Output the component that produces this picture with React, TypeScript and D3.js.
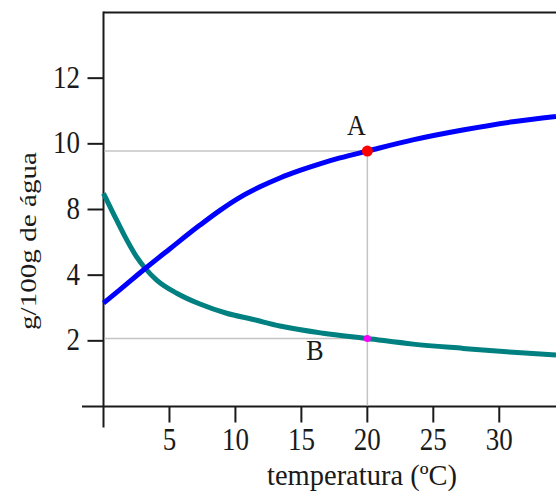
import React, { useEffect, useRef } from 'react';
import * as d3 from 'd3';

// temperatures (ºC) and solubilities (g/100g de água)
const tempA = [0, 1.25, 3.14, 5.04, 7.31, 8.83, 10.34, 11.86, 13.37, 14.89, 16.4, 17.92, 20, 23.45, 27.23, 31.02, 34.3];
const solA = [3.15, 3.56, 4.39, 5.61, 7.05, 7.95, 8.37, 8.69, 8.96, 9.19, 9.39, 9.57, 9.78, 10.12, 10.42, 10.67, 10.83];

const tempB = [0, 0.74, 1.63, 2.5, 3.16, 4.03, 5.55, 7.31, 9.33, 11.35, 13.37, 16.65, 20, 23.47, 27.26, 31.05, 34.3];
const solB = [8.49, 7.77, 6.35, 5.13, 4.42, 3.85, 3.45, 3.12, 2.84, 2.65, 2.45, 2.23, 2.07, 1.9, 1.77, 1.65, 1.57];

const pointA = { t: 20, s: 9.78, label: 'A' };
const pointB = { t: 20, s: 2.07, label: 'B' };

const xTicks = [5, 10, 15, 20, 25, 30];
// the original axis is labelled 2, 4, 8, 10, 12 at equal spacing
const yTicks = [2, 4, 8, 10, 12];
const yDomain = [0, 2, 4, 8, 10, 12, 14];
const xMax = 34.3;

const App = () => {
  const ref = useRef<SVGSVGElement>(null);

  useEffect(() => {
    const width = 556;
    const left = 103.5;
    const top = 12.5;
    const bottom = 406.5;
    const font = '"Liberation Serif", "Times New Roman", serif';

    const svg = d3.select(ref.current);
    svg.selectAll('*').remove();

    const x = d3.scaleLinear().domain([0, xMax]).range([left, width]);
    const step = (bottom - top) / (yDomain.length - 1);
    const y = d3.scaleLinear()
      .domain(yDomain)
      .range(yDomain.map((_, i) => bottom - i * step));

    const ink = '#1a1a1a';

    // frame: top border, y axis, x axis
    svg.append('line')
      .attr('x1', left).attr('x2', width)
      .attr('y1', top).attr('y2', top)
      .attr('stroke', ink).attr('stroke-width', 2);
    svg.append('line')
      .attr('x1', left).attr('x2', left)
      .attr('y1', top - 1).attr('y2', bottom + 21)
      .attr('stroke', ink).attr('stroke-width', 2);
    svg.append('line')
      .attr('x1', 82).attr('x2', width)
      .attr('y1', bottom).attr('y2', bottom)
      .attr('stroke', ink).attr('stroke-width', 2);

    // y ticks
    const yt = svg.append('g');
    yt.selectAll('line')
      .data(yTicks)
      .join('line')
      .attr('x1', left - 16).attr('x2', left)
      .attr('y1', d => y(d)).attr('y2', d => y(d))
      .attr('stroke', ink).attr('stroke-width', 2);
    yt.selectAll('text')
      .data(yTicks)
      .join('text')
      .attr('transform', d => `translate(80, ${y(d) + 9.5}) scale(1, 1.15)`)
      .attr('text-anchor', 'end')
      .attr('font-family', font)
      .attr('font-size', 27)
      .attr('fill', ink)
      .text(d => d);

    // x ticks
    const xt = svg.append('g');
    xt.selectAll('line')
      .data(xTicks)
      .join('line')
      .attr('x1', d => x(d)).attr('x2', d => x(d))
      .attr('y1', bottom).attr('y2', bottom + 16)
      .attr('stroke', ink).attr('stroke-width', 2);
    xt.selectAll('text')
      .data(xTicks)
      .join('text')
      .attr('transform', d => `translate(${x(d)}, 450) scale(1, 1.15)`)
      .attr('text-anchor', 'middle')
      .attr('font-family', font)
      .attr('font-size', 27)
      .attr('fill', ink)
      .text(d => d);

    // guide lines to A and B
    const grey = '#c4c4c4';
    [pointA, pointB].forEach(p => {
      svg.append('line')
        .attr('x1', left + 1).attr('x2', x(p.t))
        .attr('y1', y(p.s)).attr('y2', y(p.s))
        .attr('stroke', grey).attr('stroke-width', 1.5);
    });
    svg.append('line')
      .attr('x1', x(pointA.t)).attr('x2', x(pointA.t))
      .attr('y1', y(pointA.s)).attr('y2', bottom - 1)
      .attr('stroke', grey).attr('stroke-width', 1.5);

    // curves
    const line = d3.line<[number, number]>()
      .x(d => x(d[0]))
      .y(d => y(d[1]))
      .curve(d3.curveMonotoneX);

    svg.append('path')
      .datum(tempB.map((t, i) => [t, solB[i]] as [number, number]))
      .attr('d', line)
      .attr('fill', 'none')
      .attr('stroke', '#008080')
      .attr('stroke-width', 5);

    svg.append('path')
      .datum(tempA.map((t, i) => [t, solA[i]] as [number, number]))
      .attr('d', line)
      .attr('fill', 'none')
      .attr('stroke', '#0000ff')
      .attr('stroke-width', 5);

    // points
    svg.append('circle')
      .attr('cx', x(pointA.t)).attr('cy', y(pointA.s))
      .attr('r', 5.5).attr('fill', '#ff0000');
    svg.append('circle')
      .attr('cx', x(pointB.t)).attr('cy', y(pointB.s))
      .attr('r', 3.5).attr('fill', '#ff00ff');

    svg.append('text')
      .attr('transform', `translate(${x(pointA.t) - 11}, 135) scale(1, 1.15)`)
      .attr('text-anchor', 'middle')
      .attr('font-family', font)
      .attr('font-size', 26)
      .attr('fill', ink)
      .text(pointA.label);
    svg.append('text')
      .attr('transform', `translate(315, 360) scale(1, 1.15)`)
      .attr('text-anchor', 'middle')
      .attr('font-family', font)
      .attr('font-size', 26)
      .attr('fill', ink)
      .text(pointB.label);

    // axis titles
    svg.append('text')
      .attr('transform', 'translate(362, 485) scale(1, 1.15)')
      .attr('text-anchor', 'middle')
      .attr('font-family', font)
      .attr('font-size', 25)
      .attr('textLength', 190)
      .attr('lengthAdjust', 'spacingAndGlyphs')
      .attr('fill', ink)
      .text('temperatura (ºC)');

    svg.append('text')
      .attr('transform', 'translate(36, 241) rotate(-90)')
      .attr('text-anchor', 'middle')
      .attr('font-family', font)
      .attr('font-size', 23)
      .attr('textLength', 178)
      .attr('lengthAdjust', 'spacingAndGlyphs')
      .attr('fill', ink)
      .text('g/100g de água');
  }, []);

  return (
    <svg
      ref={ref}
      width={556}
      height={491}
      style={{ position: 'absolute', left: 0, top: 0, background: '#fff' }}
    />
  );
};

export default App;
